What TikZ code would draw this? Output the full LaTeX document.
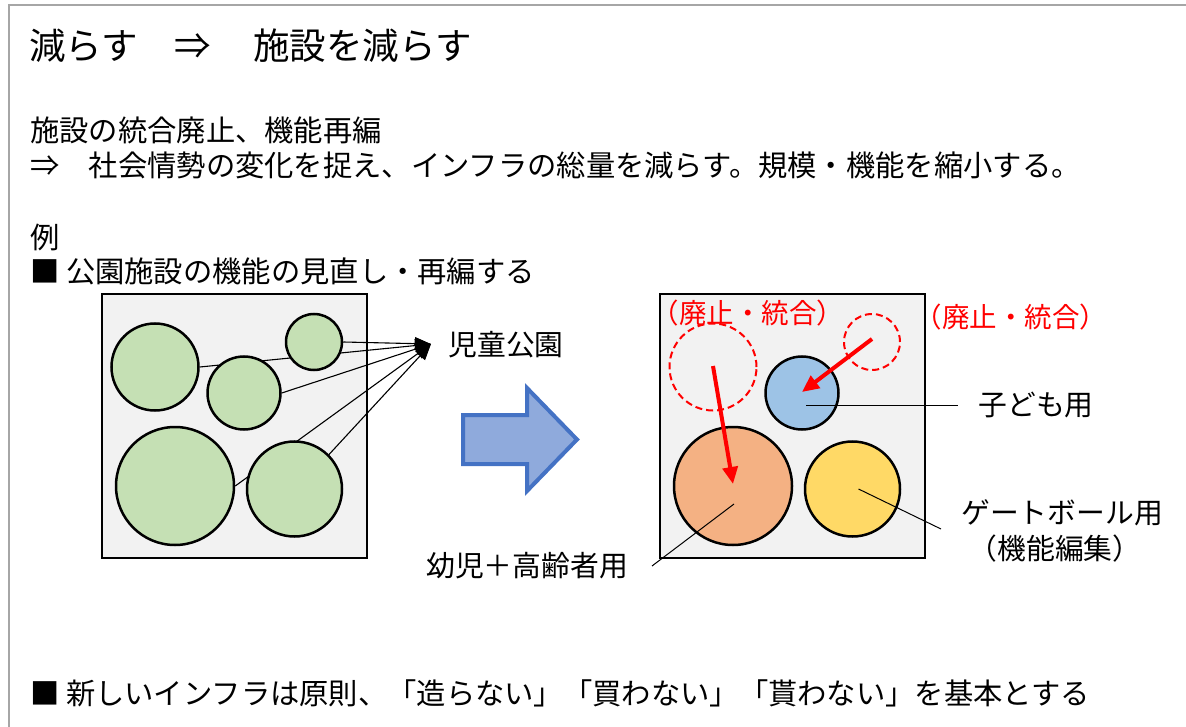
\documentclass[tikz,border=0pt]{standalone}
\usepackage{fontspec}
\setmainfont{Noto Sans CJK JP}
\usetikzlibrary{arrows.meta}
\definecolor{framegray}{HTML}{A6A6A6}
\definecolor{boxfill}{HTML}{F2F2F2}
\definecolor{greenfill}{HTML}{C5E0B4}
\definecolor{bluefill}{HTML}{9DC3E6}
\definecolor{orangefill}{HTML}{F4B183}
\definecolor{yellowfill}{HTML}{FFD966}
\definecolor{arrowfill}{HTML}{8FAADC}
\definecolor{arrowline}{HTML}{4472C4}
\definecolor{myred}{HTML}{FF0000}
\pgfdeclarelayer{back}
\pgfdeclarelayer{mid}
\pgfsetlayers{back,mid,main}
\tikzset{
  txt/.style={anchor=west, inner sep=0pt, font=\fontsize{29.3}{34}\selectfont},
  lbl/.style={inner sep=0pt, font=\fontsize{28.8}{34}\selectfont},
  redlbl/.style={inner sep=0pt, font=\fontsize{27.5}{32}\selectfont, text=myred},
  parkbox/.style={draw=black, line width=2pt, fill=boxfill},
  park/.style={circle, draw=black, line width=2.5pt, inner sep=0pt},
  gone/.style={circle, draw=myred, line width=2pt, dash pattern=on 7pt off 4pt, inner sep=0pt},
  conn/.style={draw=black, line width=1.1pt},
  leader/.style={draw=black, line width=1pt},
  redarrow/.style={draw=myred, line width=4pt, -{Triangle[length=17pt,width=15pt]}},
}
\begin{document}
\begin{tikzpicture}[x=1pt,y=-1pt]
\useasboundingbox (0,0) rectangle (1186,727);
\draw[framegray, line width=2pt] (9,740) -- (9,5) -- (1200,5);

% texts
\node[txt, font=\fontsize{36.5}{42}\selectfont] (title) at (29,46) {減らす　⇒　\hspace{6pt}施設を減らす};
\node[txt] (l1) at (30,130) {施設の統合廃止、機能再編};
\node[txt] (l2) at (30,165) {⇒　社会情勢の変化を捉え、インフラの総量を減らす。規模・機能を縮小する。};
\node[txt] (ex) at (30,237) {例};
\node[txt] (l3) at (30,271) {■ 公園施設の機能の見直し・再編する};
\node[txt] (l4) at (30,693) {■ 新しいインフラは原則、「造らない」「買わない」「貰わない」を基本とする};

% left box
\begin{pgfonlayer}{back}
\draw[parkbox] (102,294) rectangle (366.5,558);
\end{pgfonlayer}
\node[park, fill=greenfill, minimum size=87pt] (c1) at (155,367) {};
\node[park, fill=greenfill, minimum size=56pt] (c2) at (314,342) {};
\node[park, fill=greenfill, minimum size=73pt] (c3) at (244,393) {};
\node[park, fill=greenfill, minimum size=118pt] (c4) at (175,486) {};
\node[park, fill=greenfill, minimum size=95pt] (c5) at (294.5,489) {};
\coordinate (tip) at (431,344);
\node[lbl] (jido) at (506,345) {児童公園};
\begin{pgfonlayer}{mid}
\foreach \a in {c1.east,c2.east,c3.east,c4.east,c5.north east}
  \draw[conn, -{Triangle[length=16pt,width=13pt]}] (\a) -- (tip);
\end{pgfonlayer}

% big arrow
\draw[fill=arrowfill, draw=arrowline, line width=4pt, line join=miter]
  (463,415) -- (527,415) -- (527,388) -- (577,439.5) -- (527,491) -- (527,464) -- (463,464) -- cycle;

% right box
\draw[parkbox] (660,294) rectangle (924.5,558);
\node[gone, minimum size=87pt] (d1) at (713,367) {};
\node[gone, minimum size=56pt] (d2) at (872,342) {};
\node[park, fill=bluefill, minimum size=73pt] (blue) at (802,393) {};
\node[park, fill=orangefill, minimum size=118pt] (orange) at (733,486) {};
\node[park, fill=yellowfill, minimum size=95pt] (yellow) at (852.5,489) {};

\node[redlbl] (r1) at (748,313) {（廃止・統合）};
\node[redlbl] (r2) at (1011,317) {（廃止・統合）};
\node[lbl] (kodomo) at (1036,405) {子ども用};
\node[lbl] (gate) at (1062,513) {ゲートボール用};
\node[lbl] (kino) at (1055,549) {（機能編集）};
\node[lbl] (yoji) at (527,566) {幼児＋高齢者用};

\draw[redarrow] ([yshift=1pt]d1.center) -- ([yshift=2pt]orange.center);
\draw[redarrow] ([yshift=3pt]d2.center) -- ([yshift=1pt]blue.center);
\draw[leader] ([shift={(4,12)}]blue.center) -- ([xshift=-20pt]kodomo.west);
\draw[leader] ([xshift=6pt]yellow.center) -- ([shift={(-20,16)}]gate.west);
\draw[leader] ([shift={(1,18)}]orange.center) -- ([xshift=24pt]yoji.east);
\end{tikzpicture}
\end{document}
